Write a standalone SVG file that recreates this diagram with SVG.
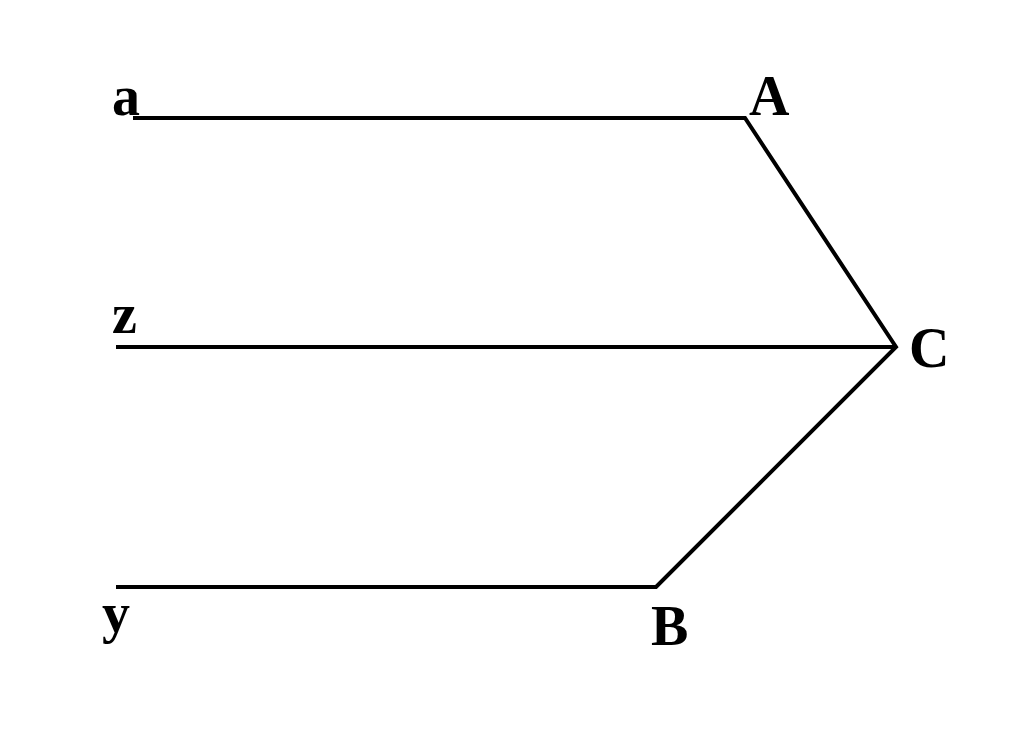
<svg xmlns="http://www.w3.org/2000/svg" width="1024" height="754" viewBox="0 0 1024 754">
<style>
.l{stroke:#000;stroke-width:4;fill:none;stroke-linejoin:miter}
.t{font-family:"Liberation Serif",serif;font-weight:bold;font-size:56px;fill:#000}
</style>
<rect width="1024" height="754" fill="#fff"/>
<g id="connectors">
<polyline class="l" points="133,118 745,118 896,347 656,587 116,587"/>
<line class="l" x1="116" y1="347" x2="896" y2="347"/>
</g>
<g id="labels">
<text class="t" x="112" y="115">a</text>
<text class="t" x="749" y="115">A</text>
<text class="t" x="112" y="333">z</text>
<text class="t" x="909" y="367">C</text>
<text class="t" x="102" y="632">y</text>
<text class="t" x="651" y="645">B</text>
</g>
</svg>
